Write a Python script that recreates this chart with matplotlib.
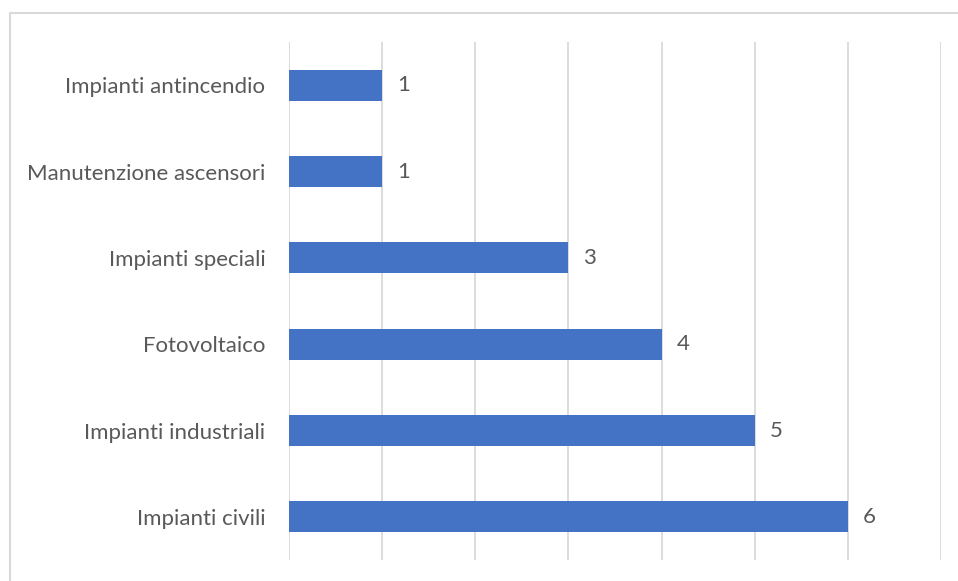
import matplotlib.pyplot as plt
from matplotlib.lines import Line2D

categories = ['Impianti civili', 'Impianti industriali', 'Fotovoltaico',
              'Impianti speciali', 'Manutenzione ascensori', 'Impianti antincendio']
values = [6, 5, 4, 3, 1, 1]

text_color = '#595959'
grid_color = '#d9d9d9'

plt.rcParams['font.family'] = ['Lato', 'DejaVu Sans']

fig = plt.figure(figsize=(9.58, 5.81), dpi=100)
ax = fig.add_axes([0.3017, 0.0361, 0.6806, 0.8916])

# chart frame: top and left edges
fx, fy = 9.5 / 958, 1 - 12.5 / 581
fig.lines.append(Line2D([fx, fx, 1.05], [-0.05, fy, fy], transform=fig.transFigure,
                        color=grid_color, linewidth=1.5))

y = range(len(categories))
ax.barh(y, values, height=0.36, color='#4472C4', zorder=3)
for yi, v in zip(y, values):
    ax.text(v + 0.16, yi, str(v), va='center', ha='left',
            fontsize=16, color=text_color)

ax.set_xlim(0, 7)
ax.set_ylim(-0.5, len(categories) - 0.5)
ax.set_xticks(range(0, 8))
ax.set_xticklabels([])
ax.tick_params(axis='x', length=0)
ax.grid(axis='x', color=grid_color, linewidth=1.3, zorder=0)
ax.set_yticks(list(y))
ax.set_yticklabels(categories, fontsize=16, color=text_color)
ax.tick_params(axis='y', length=0, pad=17)
for s in ax.spines.values():
    s.set_visible(False)

fig.savefig('out.png', dpi=100)
